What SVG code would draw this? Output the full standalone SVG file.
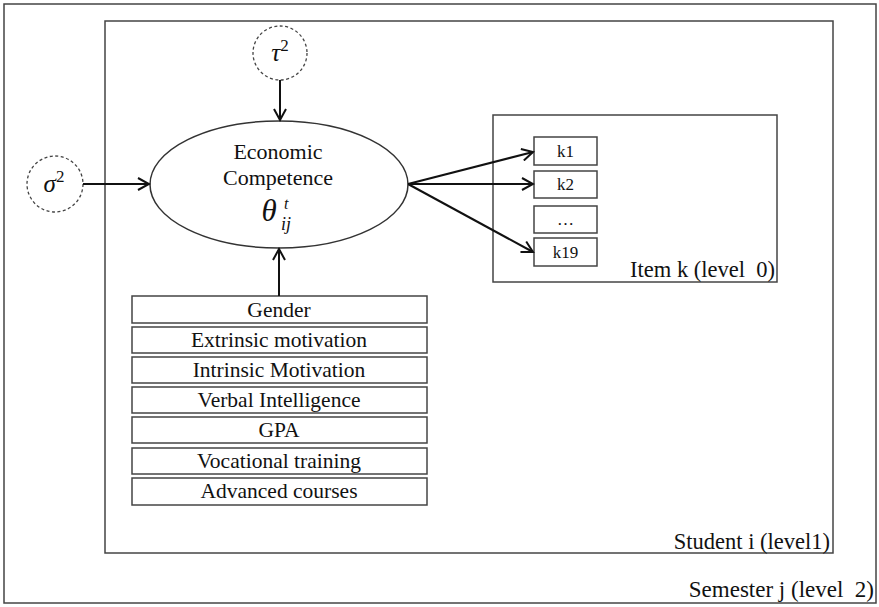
<svg xmlns="http://www.w3.org/2000/svg" width="879" height="607" viewBox="0 0 879 607">
<defs>
<marker id="arr" markerWidth="14" markerHeight="14" refX="12" refY="7" orient="auto" markerUnits="userSpaceOnUse">
<path d="M1,1 L12,7 L1,13" fill="none" stroke="#111" stroke-width="2"/>
</marker>
</defs>
<style>
text{font-family:"Liberation Serif","Times New Roman",serif;fill:#111}
.frame{fill:none;stroke:#444;stroke-width:1.5}
.box{fill:#fff;stroke:#444;stroke-width:1.5}
.circ{fill:#fff;stroke:#444;stroke-width:1.3;stroke-dasharray:3,2.5}
.conn{stroke:#111;stroke-width:2;fill:none;marker-end:url(#arr)}
.var{font-size:21.5px;text-anchor:middle}
.k{font-size:17px;text-anchor:middle}
.math{font-family:"Liberation Serif","DejaVu Serif",serif;font-style:italic}
</style>
<rect width="879" height="607" fill="#fff"/>
<g id="semester">
<rect class="frame" x="4" y="4" width="872" height="599"/>
<text x="874" y="597" font-size="23" text-anchor="end" xml:space="preserve">Semester j (level  2)</text>
</g>
<g id="student">
<rect class="frame" x="105" y="21" width="728" height="532"/>
<text x="830" y="549" font-size="22.5" text-anchor="end">Student i (level1)</text>
</g>
<g id="items">
<rect class="frame" x="493" y="115" width="284" height="167"/>
<text x="775" y="277" font-size="22.5" text-anchor="end" xml:space="preserve">Item k (level  0)</text>
</g>
<g id="k1"><rect class="box" x="534" y="137" width="63" height="28"/><text class="k" x="565.5" y="157">k1</text></g>
<g id="k2"><rect class="box" x="534" y="171" width="63" height="27"/><text class="k" x="565.5" y="190">k2</text></g>
<g id="kdots"><rect class="box" x="534" y="206" width="63" height="27"/><text class="k" x="565.5" y="225">…</text></g>
<g id="k19"><rect class="box" x="534" y="238" width="63" height="28"/><text class="k" x="565.5" y="258">k19</text></g>
<g id="tau">
<circle class="circ" cx="280" cy="53" r="27"/>
<text class="math" x="280" y="61" font-size="25" text-anchor="middle">τ<tspan font-style="normal" font-size="17" dy="-10">2</tspan></text>
</g>
<g id="sigma">
<circle class="circ" cx="55" cy="184" r="28"/>
<text class="math" x="54" y="192" font-size="25" text-anchor="middle">σ<tspan font-style="normal" font-size="17" dy="-10">2</tspan></text>
</g>
<g id="competence">
<ellipse cx="279" cy="184.5" rx="129" ry="63.5" fill="#fff" stroke="#333" stroke-width="1.5"/>
<text x="278" y="159" font-size="22" text-anchor="middle">Economic</text>
<text x="278" y="185" font-size="22" text-anchor="middle">Competence</text>
<text class="math" x="269" y="221" font-size="31" text-anchor="middle">θ</text>
<text class="math" x="284" y="209" font-size="16">t</text>
<text class="math" x="281" y="230" font-size="18">ij</text>
</g>
<g id="gender"><rect class="box" x="132" y="296" width="295" height="27"/><text class="var" x="279" y="317">Gender</text></g>
<g id="extrinsic"><rect class="box" x="132" y="327" width="295" height="26"/><text class="var" x="279" y="347">Extrinsic motivation</text></g>
<g id="intrinsic"><rect class="box" x="132" y="357" width="295" height="26"/><text class="var" x="279" y="377">Intrinsic Motivation</text></g>
<g id="verbal"><rect class="box" x="132" y="387" width="295" height="26"/><text class="var" x="279" y="407">Verbal Intelligence</text></g>
<g id="gpa"><rect class="box" x="132" y="417" width="295" height="26"/><text class="var" x="279" y="437">GPA</text></g>
<g id="vocational"><rect class="box" x="132" y="448" width="295" height="26"/><text class="var" x="279" y="468">Vocational training</text></g>
<g id="advanced"><rect class="box" x="132" y="478" width="295" height="27"/><text class="var" x="279" y="498">Advanced courses</text></g>
<g id="connectors">
<line class="conn" x1="83" y1="184" x2="149" y2="184"/>
<line class="conn" x1="280" y1="80" x2="280" y2="120"/>
<line class="conn" x1="279" y1="296" x2="279" y2="249"/>
<line class="conn" x1="408" y1="184" x2="533" y2="152"/>
<line class="conn" x1="408" y1="184" x2="533" y2="184"/>
<line class="conn" x1="408" y1="184" x2="533" y2="252"/>
</g>
</svg>
